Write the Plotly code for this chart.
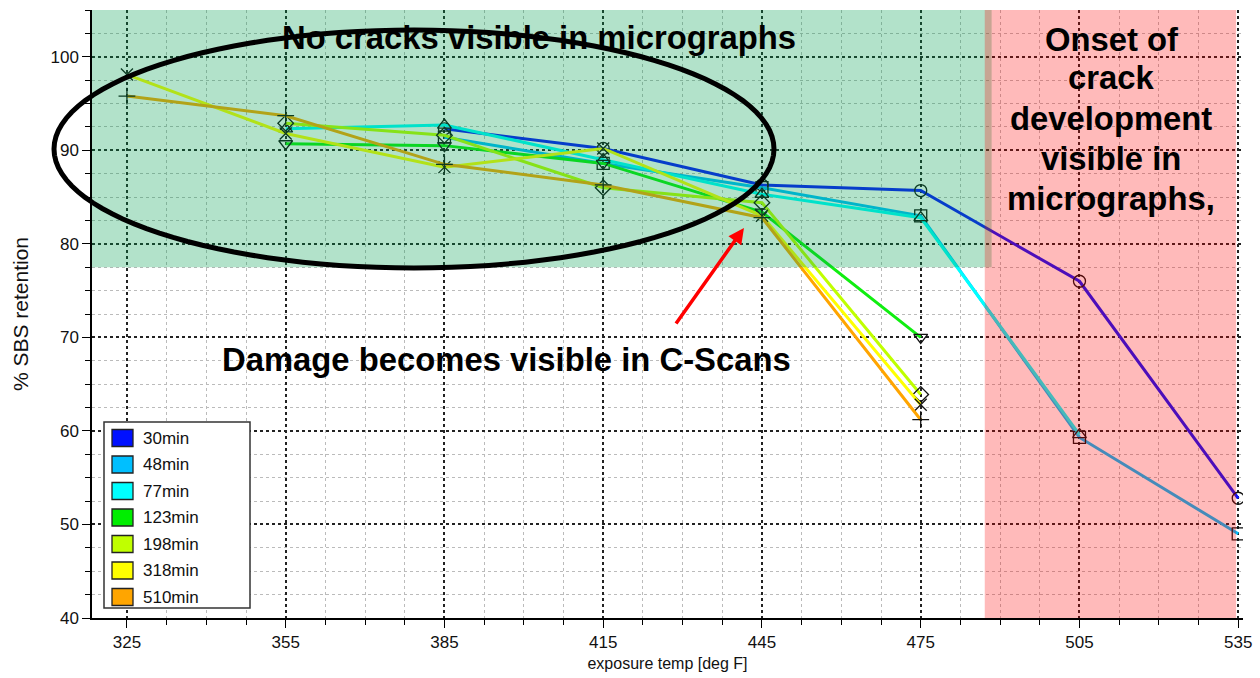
import numpy as np
import plotly.graph_objects as go

# Exposure temperatures (deg F) and short-beam-strength retention (%) per exposure time
temps = [325, 355, 385, 415, 445, 475, 505, 535]
labels = ["30min", "48min", "77min", "123min", "198min", "318min", "510min"]
ret_30 = [None, None, 92.3, 90.2, 86.3, 85.7, 76.0, 52.8]
ret_48 = [None, None, 91.4, 88.6, 86.0, 83.0, 59.3, 49.0]
ret_77 = [None, 92.3, 92.7, 89.0, 85.3, 82.8, 59.6, None]
ret_123 = [None, 90.7, 90.5, 88.6, 83.4, 70.0, None, None]
ret_198 = [None, 92.9, 91.6, 86.0, 84.4, 63.9, None, None]
ret_318 = [98.1, 91.8, 88.2, 90.2, 83.0, 62.8, None, None]
ret_510 = [95.8, 93.7, 88.5, 86.3, 82.8, 61.2, None, None]
series = [ret_30, ret_48, ret_77, ret_123, ret_198, ret_318, ret_510]

line_colors = ["#0a14ff", "#00bfff", "#00ffff", "#10ee10", "#c0ff00", "#ffff00", "#ffa500"]
swatch_colors = ["#0010ff", "#00bfff", "#00ffff", "#00ee00", "#c0ff00", "#ffff00", "#ffa500"]
symbols = ["circle-open", "square-open", "triangle-up-open", "triangle-down-open",
           "diamond-open", "x-thin-open", "cross-thin-open"]

X_RANGE = [318.4, 535.9]
Y_RANGE = [40, 105]

# plot-area geometry in page pixels, used to place free-floating notes
W, H = 1260, 678
L, R, T, B = 92, 17, 10, 60
PW, PH = W - L - R, H - T - B


def px(xp):
    return (xp - L) / PW


def py(yp):
    return (H - B - yp) / PH


FONT = "Liberation Sans, Arial, sans-serif"

fig = go.Figure()

for name, vals, col, sym in zip(labels, series, line_colors, symbols):
    fig.add_trace(go.Scatter(
        x=temps, y=vals, mode="lines+markers", name=name, showlegend=False,
        line=dict(color=col, width=3),
        marker=dict(symbol=sym, size=12, color="#111111",
                    line=dict(color="#111111", width=1.3)),
    ))

# translucent zones
fig.add_shape(type="rect", xref="x", yref="y", x0=X_RANGE[0], x1=488.4, y0=77.5, y1=Y_RANGE[1],
              line=dict(width=0), fillcolor="rgba(0,160,80,0.30)", layer="above")
fig.add_shape(type="rect", xref="x", yref="paper", x0=487.1, x1=534.6, y0=0, y1=1,
              line=dict(width=0), fillcolor="rgba(255,0,0,0.27)", layer="above")

# ellipse around the early-exposure cluster (drawn as a path so it can spill past the axis)
t = np.linspace(0, 2 * np.pi, 121)
cx, cy, ra, rb = 414, 149, 360, 119
ex = [px(cx + ra * np.cos(a)) for a in t]
ey = [py(cy + rb * np.sin(a)) for a in t]
path = "M " + " L ".join("%.5f,%.5f" % (u, v) for u, v in zip(ex, ey)) + " Z"
fig.add_shape(type="path", xref="paper", yref="paper", path=path,
              line=dict(color="black", width=5), layer="above")

# hand-built legend box with colour swatches
fig.add_shape(type="rect", xref="paper", yref="paper",
              x0=px(104), x1=px(250), y0=py(608), y1=py(422),
              line=dict(color="#333333", width=1.5), fillcolor="white", layer="above")
row0, row_step = 438, 26.5
for i, (name, col) in enumerate(zip(labels, swatch_colors)):
    yc = row0 + i * row_step
    fig.add_shape(type="rect", xref="paper", yref="paper",
                  x0=px(112), x1=px(133), y0=py(yc + 8.5), y1=py(yc - 8.5),
                  line=dict(color="#222222", width=1.3), fillcolor=col, layer="above")
    fig.add_annotation(xref="paper", yref="paper", x=px(141), y=py(yc), text=name,
                       showarrow=False, xanchor="left", yanchor="middle",
                       font=dict(family=FONT, size=17, color="#111111"))

BOLD = dict(family=FONT, size=32.8, color="black")

fig.add_annotation(xref="paper", yref="paper", x=px(539), y=py(38),
                   text="<b>No cracks visible in micrographs</b>", showarrow=False,
                   font=BOLD, xanchor="center", yanchor="middle")
fig.add_annotation(xref="paper", yref="paper", x=px(506), y=py(360),
                   text="<b>Damage becomes visible in C-Scans</b>", showarrow=False,
                   font=BOLD, xanchor="center", yanchor="middle")
for line_txt, yp in zip(["Onset of", "crack", "development", "visible in", "micrographs,"],
                        [39, 78, 118, 158, 198]):
    fig.add_annotation(xref="paper", yref="paper", x=px(1111), y=py(yp),
                       text="<b>%s</b>" % line_txt, showarrow=False,
                       font=BOLD, xanchor="center", yanchor="middle")

# red pointer toward the 445 F cluster
fig.add_annotation(x=441.6, y=81.7, xref="x", yref="y", text="", showarrow=True,
                   ax=-69, ay=97, arrowcolor="red", arrowwidth=3.5, arrowhead=2,
                   arrowsize=0.9)

TICK_FONT = dict(family=FONT, size=17, color="#111111")

fig.update_xaxes(
    range=X_RANGE, tickvals=temps, ticktext=[str(v) for v in temps],
    showline=True, linecolor="black", linewidth=1.5, ticks="outside", ticklen=8,
    tickcolor="black", tickfont=TICK_FONT, zeroline=False,
    showgrid=True, gridcolor="#222222", griddash="dot", gridwidth=1.5,
    minor=dict(dtick=7.5, tick0=325, ticks="outside", ticklen=5, tickcolor="black",
               showgrid=True, gridcolor="#bbbbbb", griddash="dot", gridwidth=1),
    title=dict(text="exposure temp [deg F]", font=dict(family=FONT, size=16, color="#111111"),
               standoff=7),
)
fig.update_yaxes(
    range=Y_RANGE, tickvals=[40, 50, 60, 70, 80, 90, 100],
    showline=True, linecolor="black", linewidth=1.5, ticks="outside", ticklen=8,
    tickcolor="black", tickfont=TICK_FONT, zeroline=False,
    showgrid=True, gridcolor="#222222", griddash="dot", gridwidth=1.5,
    minor=dict(dtick=2.5, tick0=40, ticks="outside", ticklen=5, tickcolor="black",
               showgrid=True, gridcolor="#bbbbbb", griddash="dot", gridwidth=1),
    title=dict(text="% SBS retention", font=dict(family=FONT, size=21, color="#111111"),
               standoff=16),
)

fig.update_layout(
    width=W, height=H, margin=dict(l=L, r=R, t=T, b=B, autoexpand=False),
    plot_bgcolor="white", paper_bgcolor="white", showlegend=False,
)

fig.write_html("out.html")
